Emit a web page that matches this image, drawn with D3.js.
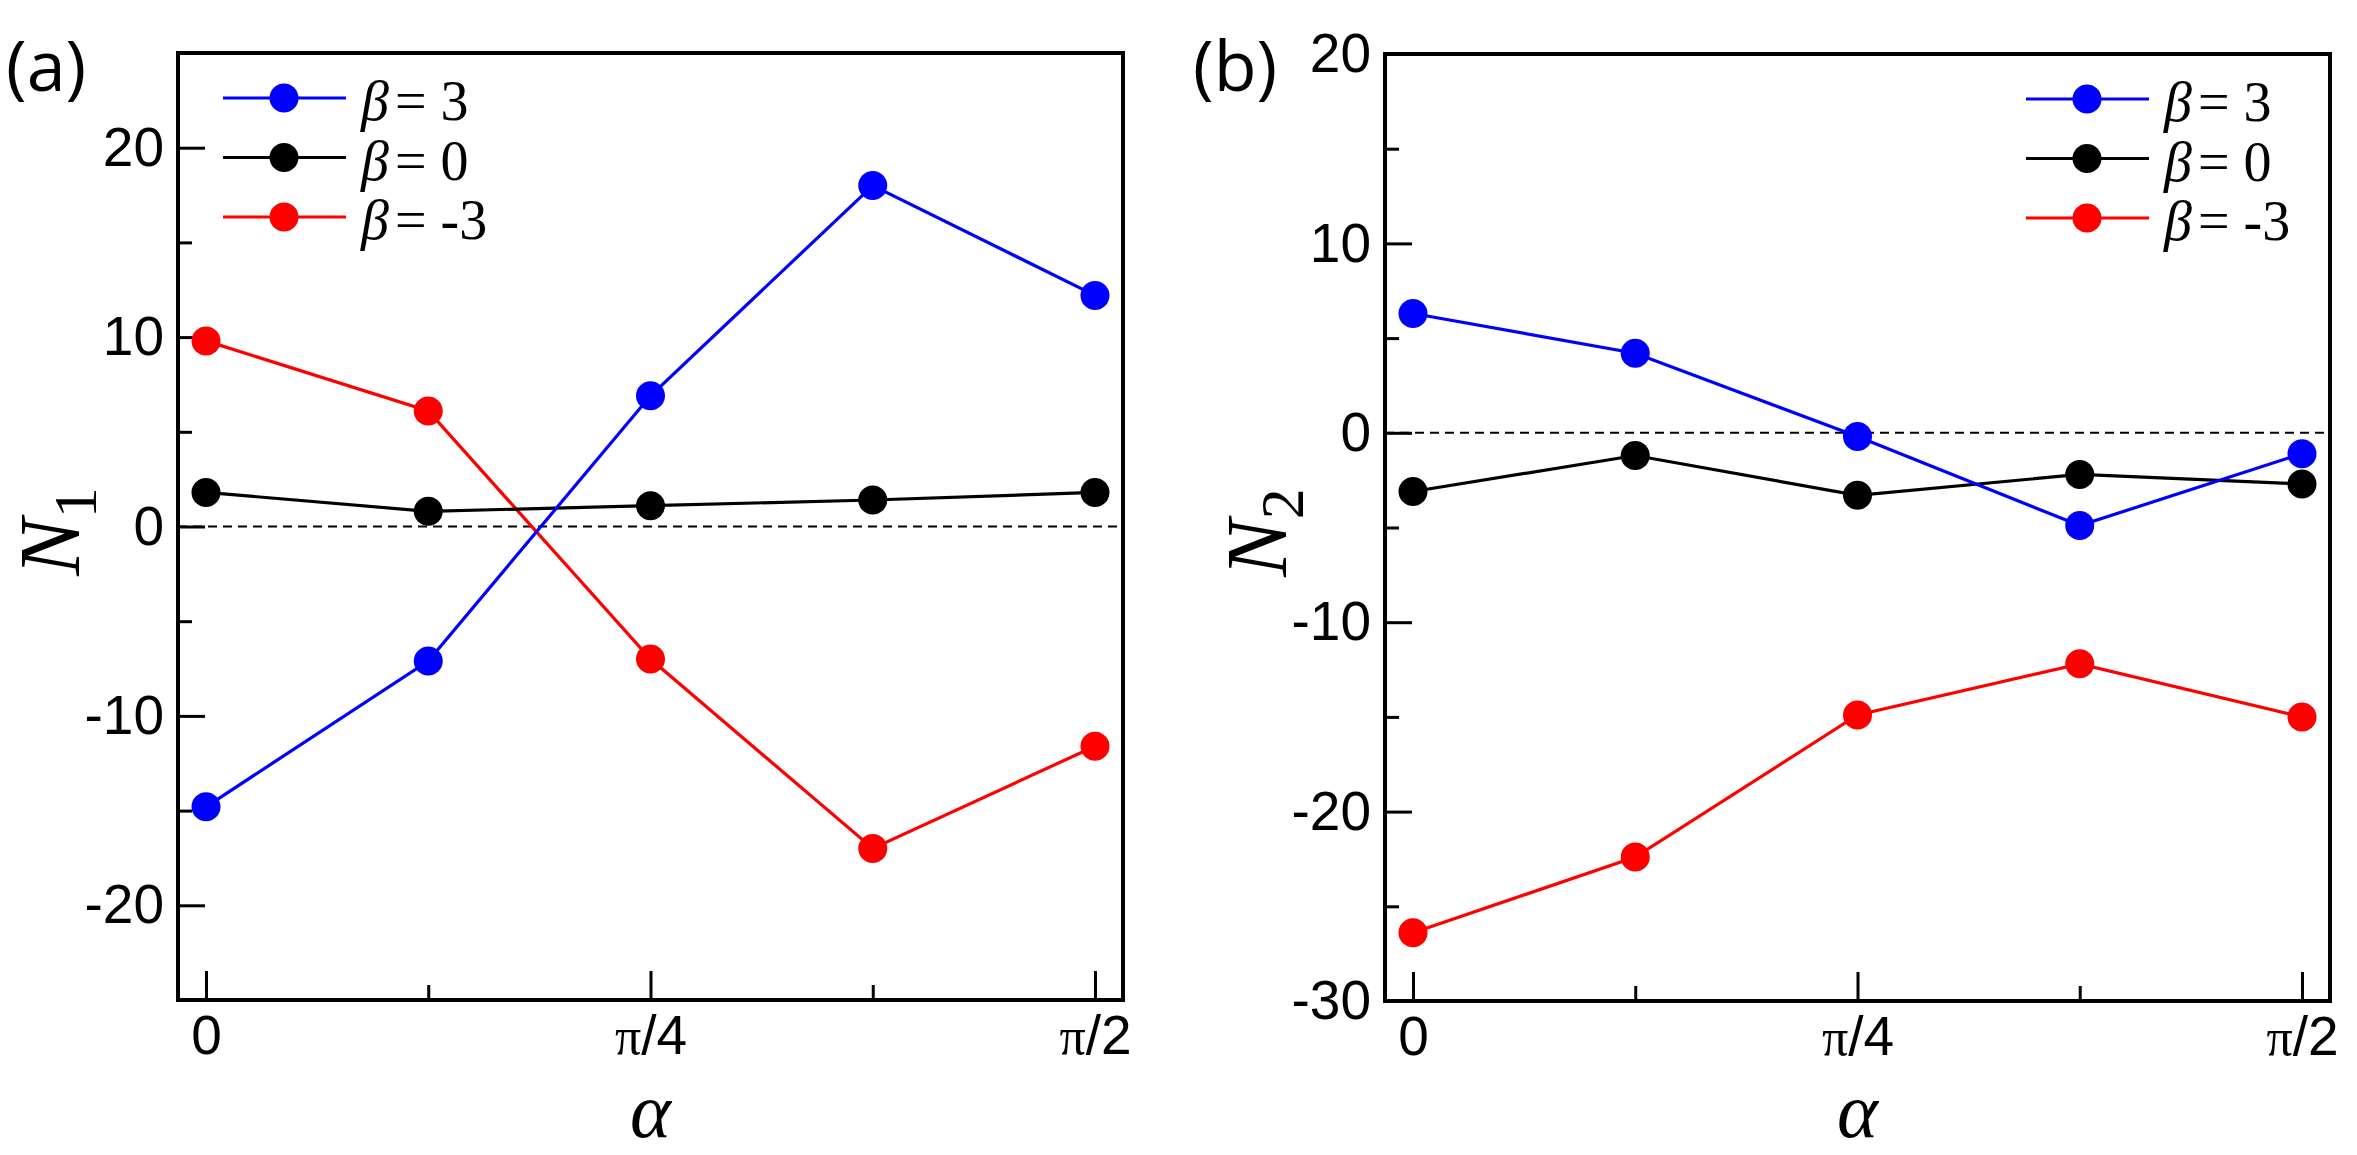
<!DOCTYPE html>
<html>
<head>
<meta charset="utf-8">
<script src="https://cdn.jsdelivr.net/npm/d3@7"></script>
<style>
  body { margin: 0; background: #fff; }
  .tick text { font-family: "Liberation Sans", Arial, sans-serif; font-size: 55px; fill: #000; }
  .tick line { stroke: #000; stroke-width: 3px; }
</style>
</head>
<body>
<div class="chart"></div>
<script>
// data
var alphaCats = ["0", "π/8", "π/4", "3π/8", "π/2"];
var majorX = ["0", "π/4", "π/2"];
var minorX = ["π/8", "3π/8"];

var betaLabels = ["3", "0", "-3"];
var betaColors = ["#0000ff", "#000000", "#ff0000"];

var n1Beta3 = [-14.8, -7.1, 6.9, 18.0, 12.2];
var n1Beta0 = [1.8, 0.8, 1.1, 1.4, 1.8];
var n1BetaM3 = [9.8, 6.1, -7.0, -17.0, -11.6];

var n2Beta3 = [6.3, 4.2, -0.2, -4.9, -1.1];
var n2Beta0 = [-3.1, -1.2, -3.3, -2.2, -2.7];
var n2BetaM3 = [-26.4, -22.4, -14.9, -12.2, -15.0];

var n1Major = [-20, -10, 0, 10, 20];
var n1Minor = [-15, -5, 5, 15];
var n2Major = [-30, -20, -10, 0, 10, 20];
var n2Minor = [-25, -15, -5, 5, 15];

var svg = d3.select(".chart").append("svg")
    .attr("width", 2357)
    .attr("height", 1155)
    .style("display", "block");

var panelW = 945, panelH = 947;
var serif = "'Liberation Serif', 'Times New Roman', serif";

function drawPanel(opt) {
  var g = svg.append("g")
      .attr("transform", "translate(" + opt.left + "," + opt.top + ")");

  // scales
  var x = d3.scalePoint()
      .domain(alphaCats)
      .range([0, panelW])
      .padding(0.126);

  var y = d3.scaleLinear()
      .domain(opt.yDomain)
      .range([panelH, 0]);

  // zero line
  g.append("line")
    .attr("x1", 0).attr("x2", panelW)
    .attr("y1", y(0)).attr("y2", y(0))
    .attr("stroke", "#000")
    .attr("stroke-width", 2)
    .attr("stroke-dasharray", "9,6");

  // axes, ticks pointing inward
  g.append("g")
    .call(d3.axisLeft(y).tickValues(opt.yMinor).tickSize(-14).tickFormat(""))
    .select(".domain").remove();

  g.append("g")
    .call(d3.axisLeft(y).tickValues(opt.yMajor).tickSize(-27).tickPadding(14)
      .tickFormat(function(d) { return String(d); }))
    .select(".domain").remove();

  g.append("g")
    .attr("transform", "translate(0," + panelH + ")")
    .call(d3.axisBottom(x).tickValues(minorX).tickSize(-15).tickFormat(""))
    .select(".domain").remove();

  var xAxis = g.append("g")
    .attr("transform", "translate(0," + panelH + ")")
    .call(d3.axisBottom(x).tickValues(majorX).tickSize(-29).tickPadding(15));
  xAxis.select(".domain").remove();

  // pi in serif, rest sans
  xAxis.selectAll(".tick text").each(function(d) {
    var t = d3.select(this).text("");
    if (d.indexOf("π") === 0) {
      t.append("tspan")
        .style("font-family", serif)
        .style("font-size", "52px")
        .text("π");
      t.append("tspan").text(d.slice(1));
    } else {
      t.text(d);
    }
  });

  // frame
  g.append("rect")
    .attr("width", panelW)
    .attr("height", panelH)
    .attr("fill", "none")
    .attr("stroke", "#000")
    .attr("stroke-width", 4);

  var line = d3.line()
      .x(function(d, i) { return x(alphaCats[i]); })
      .y(function(d) { return y(d); });

  // series, drawn red, black, blue
  [2, 1, 0].forEach(function(k) {
    g.append("path")
      .attr("d", line(opt.series[k]))
      .attr("fill", "none")
      .attr("stroke", betaColors[k])
      .attr("stroke-width", 3.2);

    g.selectAll(".pt" + k)
      .data(opt.series[k])
      .enter().append("circle")
      .attr("class", "pt" + k)
      .attr("cx", function(d, i) { return x(alphaCats[i]); })
      .attr("cy", function(d) { return y(d); })
      .attr("r", 14.5)
      .attr("fill", betaColors[k]);
  });

  // legend
  betaLabels.forEach(function(b, k) {
    var ly = 45 + k * 59.5;
    g.append("line")
      .attr("x1", opt.legX).attr("x2", opt.legX + 123)
      .attr("y1", ly).attr("y2", ly)
      .attr("stroke", betaColors[k])
      .attr("stroke-width", 3.2);
    g.append("circle")
      .attr("cx", opt.legX + 61)
      .attr("cy", ly)
      .attr("r", 14.5)
      .attr("fill", betaColors[k]);
    var txt = g.append("text")
      .attr("x", opt.legX + 138)
      .attr("y", ly + 22)
      .style("font-family", serif)
      .style("font-size", "56px");
    txt.append("tspan").style("font-style", "italic").text("β");
    txt.append("tspan").attr("dx", 6).text("=");
    txt.append("tspan").attr("dx", 14).text(b);
  });

  // axis titles
  g.append("text")
    .attr("x", panelW / 2)
    .attr("y", 1137 - opt.top)
    .attr("text-anchor", "middle")
    .style("font-family", serif)
    .style("font-style", "italic")
    .style("font-size", "78px")
    .text("α");

  var yt = g.append("text")
    .attr("transform", "translate(-99," + (panelH / 2 + 5) + ") rotate(-90)")
    .attr("text-anchor", "middle")
    .style("font-family", serif)
    .style("font-size", "86px");
  yt.append("tspan").style("font-style", "italic").text("N");
  yt.append("tspan").attr("dy", 17).style("font-size", "62px").text(opt.sub);

  // panel letter
  svg.append("text")
    .attr("x", opt.letterX)
    .attr("y", 91)
    .style("font-family", "'Open Sans', 'Noto Sans', sans-serif")
    .style("font-size", "70px")
    .text(opt.letter);
}

drawPanel({
  left: 178, top: 53,
  yDomain: [-25, 25], yMajor: n1Major, yMinor: n1Minor,
  series: [n1Beta3, n1Beta0, n1BetaM3],
  legX: 45, sub: "1", letter: "(a)", letterX: 6
});

drawPanel({
  left: 1385, top: 54,
  yDomain: [-30, 20], yMajor: n2Major, yMinor: n2Minor,
  series: [n2Beta3, n2Beta0, n2BetaM3],
  legX: 641, sub: "2", letter: "(b)", letterX: 1193
});
</script>
</body>
</html>
